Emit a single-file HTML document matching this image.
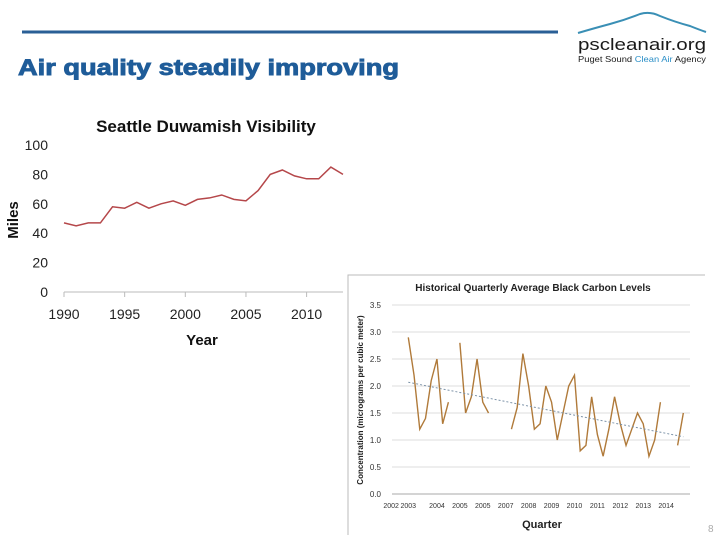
<!DOCTYPE html>
<html><head><meta charset="utf-8"><style>
html,body{margin:0;padding:0;background:#fff;}
svg{display:block;font-family:"Liberation Sans",sans-serif;}
</style></head><body>
<svg id="s" width="720" height="540" viewBox="0 0 720 540">
<line x1="22" y1="32" x2="558" y2="32" stroke="#2a5f96" stroke-width="3"/>
<text x="18" y="75" font-size="22" font-weight="bold" fill="#1f5c99" stroke="#1f5c99" stroke-width="0.9" textLength="381" lengthAdjust="spacingAndGlyphs">Air quality steadily improving</text>
<g>
<path d="M578 33 Q595 28 610 24 Q625 20 640 14 Q650 11 660 16 Q675 22 690 26 Q700 30 706 32" fill="none" stroke="#3a8fb5" stroke-width="2"/>
<text x="578" y="50" font-size="17" fill="#1a1a1a" textLength="128" lengthAdjust="spacingAndGlyphs">pscleanair.org</text>
<text x="578" y="62" font-size="8.5" fill="#1a1a1a" textLength="128" lengthAdjust="spacingAndGlyphs">Puget Sound <tspan fill="#2b8fc7">Clean Air</tspan> Agency</text>
</g>
<g id="left">
<text x="206" y="132" font-size="17" font-weight="bold" text-anchor="middle" fill="#111">Seattle Duwamish Visibility</text>
<text x="18" y="220" font-size="15" font-weight="bold" text-anchor="middle" fill="#111" transform="rotate(-90 18 220)">Miles</text>
<text x="202" y="345" font-size="15" font-weight="bold" text-anchor="middle" fill="#111">Year</text>
</g>
<g id="right">
<path d="M348 535 V275 H705" fill="none" stroke="#bbb" stroke-width="1"/>
<text x="533" y="291" font-size="10" font-weight="bold" text-anchor="middle" fill="#222">Historical Quarterly Average Black Carbon Levels</text>
<text x="363" y="400" font-size="8" font-weight="bold" text-anchor="middle" fill="#222" transform="rotate(-90 363 400)">Concentration (micrograms per cubic meter)</text>
<text x="542" y="528" font-size="11" font-weight="bold" text-anchor="middle" fill="#222">Quarter</text>
</g>
<text x="708" y="532" font-size="10" fill="#aaa">8</text>
</svg>
<script>
const visYears=[1990,1991,1992,1993,1994,1995,1996,1997,1998,1999,2000,2001,2002,2003,2004,2005,2006,2007,2008,2009,2010,2011,2012,2013];
const visMiles=[47,45,47,47,58,57,61,57,60,62,59,63,64,66,63,62,69,80,83,79,77,77,85,80];
const visYTicks=[0,20,40,60,80,100];
const visXTicks=[1990,1995,2000,2005,2010];
const bcValues=[2.9,2.2,1.2,1.4,2.1,2.5,1.3,1.7,null,2.8,1.5,1.8,2.5,1.7,1.5,null,null,null,1.2,1.6,2.6,2.0,1.2,1.3,2.0,1.7,1.0,1.5,2.0,2.2,0.8,0.9,1.8,1.1,0.7,1.2,1.8,1.3,0.9,1.2,1.5,1.3,0.7,1.0,1.7,null,null,0.9,1.5];
const bcTrend=[2.07,1.06];
const bcYTicks=[0,0.5,1,1.5,2,2.5,3,3.5];
const bcXLabels=['2002','2003','2004','2005','2005','2007','2008','2009','2010','2011','2012','2013','2014'];
const bcXLabelIdx=[-3,0,5,9,13,17,21,25,29,33,37,41,45];

const NS='http://www.w3.org/2000/svg';
function mk(parent,tag,attrs,txt){const e=document.createElementNS(NS,tag);for(const k in attrs)e.setAttribute(k,attrs[k]);if(txt!==undefined)e.textContent=txt;parent.appendChild(e);return e;}

const L=document.getElementById('left');
const lx=y=>64+(y-1990)*(343-64)/23;
const ly=v=>292-v*1.47;
let ax=mk(L,'line',{x1:64,y1:ly(0),x2:343,y2:ly(0),stroke:'#bbb'});


visYTicks.forEach(t=>{const e=mk(L,'text',{x:48,y:ly(t)+5,'font-size':14,'text-anchor':'end',fill:'#222'},String(t));

});
visXTicks.forEach(t=>{const tk=mk(L,'line',{x1:lx(t),y1:ly(0),x2:lx(t),y2:ly(0)+5,stroke:'#bbb'});


const e=mk(L,'text',{x:lx(t),y:ly(0)+27,'font-size':14,'text-anchor':'middle',fill:'#222'},String(t));

});
const vl=mk(L,'polyline',{points:visYears.map((y,i)=>lx(y)+','+ly(visMiles[i])).join(' '),fill:'none',stroke:'#b5474a','stroke-width':1.5});



const R=document.getElementById('right');
const rx=i=>408.3+i*5.73;
const ry=v=>494-v*54;
bcYTicks.forEach(t=>{const g=mk(R,'line',{x1:392,y1:ry(t),x2:690,y2:ry(t),stroke:t===0?'#aaa':'#ddd'});


const e=mk(R,'text',{x:381,y:ry(t)+3,'font-size':8,'text-anchor':'end',fill:'#333'},t.toFixed(1));

});
bcXLabels.forEach((l,k)=>{const e=mk(R,'text',{x:rx(bcXLabelIdx[k]),y:508,'font-size':7,'text-anchor':'middle',fill:'#333'},l);

});
let seg=[];const segs=[];
bcValues.forEach((v,i)=>{if(v===null){if(seg.length)segs.push(seg);seg=[];}else seg.push(rx(i)+','+ry(v));});
if(seg.length)segs.push(seg);
segs.forEach(s=>{const p=mk(R,'polyline',{points:s.join(' '),fill:'none',stroke:'#b07a3a','stroke-width':1.4});

});
const tr=mk(R,'line',{x1:rx(0),y1:ry(bcTrend[0]),x2:rx(bcValues.length-1),y2:ry(bcTrend[1]),stroke:'#7d93a8','stroke-width':1,'stroke-dasharray':'2,2'});


</script>
</body></html>
